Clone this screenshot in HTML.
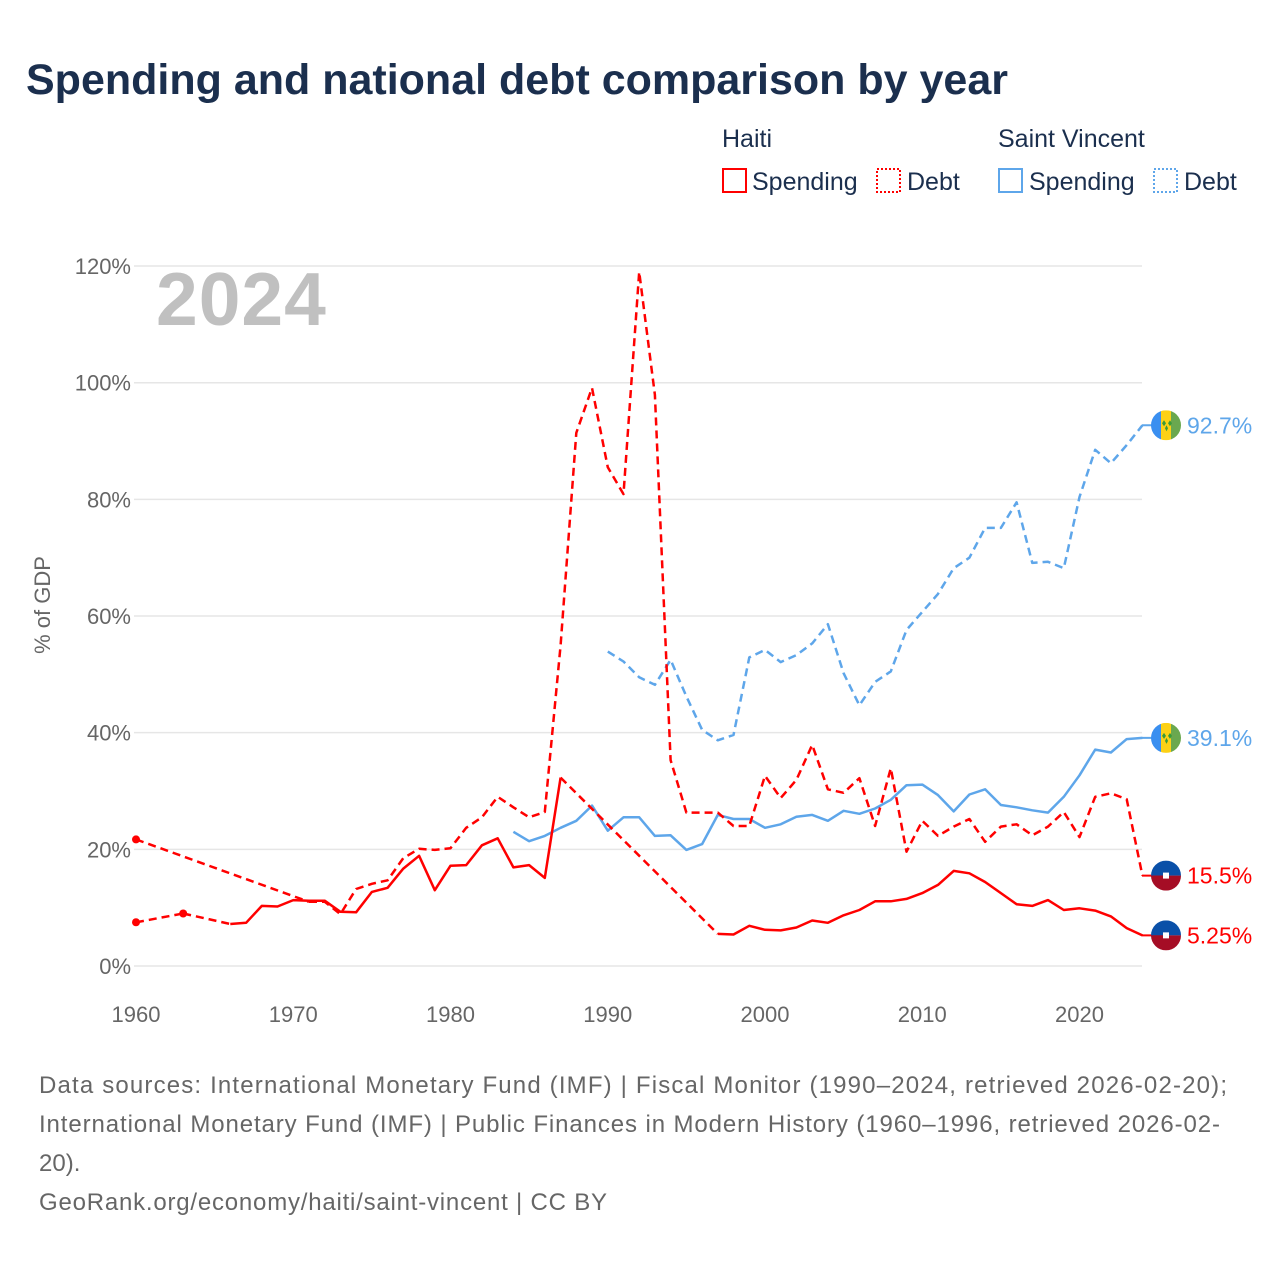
<!DOCTYPE html>
<html><head><meta charset="utf-8">
<style>
body{margin:0;background:#fff;font-family:"Liberation Sans",sans-serif;}
svg text{font-family:"Liberation Sans",sans-serif;}
</style></head>
<body>
<svg id="chart" width="1280" height="1280" viewBox="0 0 1280 1280" xmlns="http://www.w3.org/2000/svg">
<rect width="1280" height="1280" fill="#fff"/>
<text x="26" y="94" font-size="43" font-weight="bold" fill="#1b2f4e">Spending and national debt comparison by year</text>
<g font-size="25" fill="#1b2f4e">
<text x="722" y="147">Haiti</text>
<text x="998" y="147">Saint Vincent</text>
<g><rect x="723" y="169" width="23" height="23" fill="none" stroke="#f00" stroke-width="2"/><text x="752" y="190">Spending</text></g>
<g><rect x="877" y="169" width="23" height="23" fill="none" stroke="#f00" stroke-width="2" stroke-dasharray="2,2"/><text x="907" y="190">Debt</text></g>
<g><rect x="999" y="169" width="23" height="23" fill="none" stroke="#5ea6ea" stroke-width="2"/><text x="1029" y="190">Spending</text></g>
<g><rect x="1154" y="169" width="23" height="23" fill="none" stroke="#5ea6ea" stroke-width="2" stroke-dasharray="2,2"/><text x="1184" y="190">Debt</text></g>
</g>
<text x="156" y="325" font-size="75" font-weight="bold" fill="#c0c0c0" letter-spacing="1">2024</text>
<text transform="translate(50,605) rotate(-90)" text-anchor="middle" font-size="22" fill="#666">% of GDP</text>
<g id="grid"></g>
<g id="xaxis"></g>
<g id="series"></g>
<g id="endlabels"></g>
<g font-size="24" fill="#666">
<text x="39" y="1093" textLength="1188" lengthAdjust="spacing">Data sources: International Monetary Fund (IMF) | Fiscal Monitor (1990–2024, retrieved 2026-02-20);</text>
<text x="39" y="1132" textLength="1181" lengthAdjust="spacing">International Monetary Fund (IMF) | Public Finances in Modern History (1960–1996, retrieved 2026-02-</text>
<text x="39" y="1171">20).</text>
<text x="39" y="1210" textLength="568" lengthAdjust="spacing">GeoRank.org/economy/haiti/saint-vincent | CC BY</text>
</g>
</svg>
<script>
const startYear = 1960;
const yTicks = [0, 20, 40, 60, 80, 100, 120];
const xTicks = [1960, 1970, 1980, 1990, 2000, 2010, 2020];
const N = null;
// 1960..2024
const haitiSpending = [7.5,N,N,9.0,N,N,7.2,7.4,10.3,10.2,11.3,11.2,11.2,9.3,9.2,12.7,13.4,16.7,18.9,13.0,17.2,17.3,20.7,21.9,16.9,17.3,15.1,32.3,N,N,N,N,N,N,N,N,N,5.5,5.4,6.9,6.2,6.1,6.6,7.8,7.4,8.7,9.6,11.1,11.1,11.5,12.5,13.9,16.3,15.9,14.4,12.5,10.6,10.3,11.3,9.6,9.9,9.5,8.5,6.5,5.25];
const haitiDebt = [21.7,N,N,N,N,N,N,N,N,N,N,11.0,11.0,8.9,13.2,14.1,14.7,18.5,20.1,19.9,20.2,23.7,25.5,29.0,27.2,25.5,26.4,55,91.4,99.1,85.5,80.9,119,97.9,35.3,26.3,26.3,26.3,24.0,24.0,32.6,28.8,31.9,37.9,30.3,29.7,32.2,24.0,33.9,19.6,24.9,22.3,23.9,25.2,21.3,23.9,24.3,22.4,23.9,26.4,22.1,29.0,29.6,28.6,15.5];
const svSpending = [N,N,N,N,N,N,N,N,N,N,N,N,N,N,N,N,N,N,N,N,N,N,N,N,23.0,21.4,22.3,23.7,24.9,27.5,23.2,25.5,25.5,22.3,22.4,19.9,20.9,25.9,25.2,25.2,23.7,24.3,25.6,25.9,24.9,26.6,26.1,27.0,28.5,31.0,31.1,29.3,26.5,29.4,30.3,27.6,27.2,26.7,26.3,29.0,32.7,37.1,36.6,38.9,39.1];
const svDebt = [N,N,N,N,N,N,N,N,N,N,N,N,N,N,N,N,N,N,N,N,N,N,N,N,N,N,N,N,N,N,53.9,52.2,49.5,48.2,52.5,46.2,40.5,38.7,39.6,52.9,54.2,52.1,53.3,55.3,58.6,50.2,44.7,48.7,50.5,57.6,60.7,63.8,68.2,70.0,75.1,75.1,79.5,69.1,69.3,68.2,80.4,88.5,86.2,89.3,92.7];
const NS = "http://www.w3.org/2000/svg";
function xS(year){ return 136 + (year - 1960) * 15.725; }
function yS(v){ return 966 - v * 5.833; }
function mk(tag, attrs, parent){ const e = document.createElementNS(NS, tag); for (const k in attrs) e.setAttribute(k, attrs[k]); parent.appendChild(e); return e; }
const grid = document.getElementById('grid');
yTicks.forEach(t => {
  const l = mk('line', {x1:134, x2:1142, y1:yS(t), y2:yS(t), stroke:'#e6e6e6', 'stroke-width':1.5}, grid);
  
  
  const tx = mk('text', {x:131, y:yS(t)+8, 'text-anchor':'end', 'font-size':22, fill:'#666'}, grid);
  tx.textContent = t + '%';
  
  
});
const xa = document.getElementById('xaxis');
xTicks.forEach(t => {
  const tx = mk('text', {x:xS(t), y:1022, 'text-anchor':'middle', 'font-size':22, fill:'#666'}, xa);
  tx.textContent = t;
  
  
});
const ser = document.getElementById('series');
function drawSeries(vals, color, dashed, name){
  const g = mk('g', {}, ser);
  
  
  const pts = [];
  vals.forEach((v,i) => { if (v !== null) pts.push([i, v]); });
  let solid = '', gap = '';
  for (let k = 0; k < pts.length; k++) {
    const [i, v] = pts[k];
    const p = xS(startYear+i).toFixed(1) + ',' + yS(v).toFixed(1);
    if (k === 0) { solid += 'M' + p; continue; }
    const prev = pts[k-1];
    if (i - prev[0] === 1) solid += 'L' + p;
    else { gap += 'M' + xS(startYear+prev[0]).toFixed(1) + ',' + yS(prev[1]).toFixed(1) + 'L' + p; solid += 'M' + p; }
    const isoPrev = (k-1 === 0 || prev[0] - pts[k-2][0] > 1) && (i - prev[0] > 1);
    if (isoPrev) mk('circle', {cx:xS(startYear+prev[0]), cy:yS(prev[1]), r:4, fill:color}, g);
  }
  mk('path', {d:solid, fill:'none', stroke:color, 'stroke-width':2.5, 'stroke-dasharray': dashed ? '8,5' : 'none', 'stroke-linejoin':'round'}, g);
  if (gap) mk('path', {d:gap, fill:'none', stroke:color, 'stroke-width':2.5, 'stroke-dasharray':'8,5'}, g);
}
drawSeries(svDebt, '#5ea6ea', true, 'series-sv-debt');
drawSeries(svSpending, '#5ea6ea', false, 'series-sv-spending');
drawSeries(haitiDebt, '#f00', true, 'series-haiti-debt');
drawSeries(haitiSpending, '#f00', false, 'series-haiti-spending');
const el = document.getElementById('endlabels');
function endLabel(vals, color, flag, name, txt){
  const v = vals[vals.length-1];
  const y = yS(v), cx = 1166;
  const g = mk('g', {}, el);
  
  
  mk('line', {x1:1142, x2:cx, y1:y, y2:y, stroke:color, 'stroke-width':2}, g);
  const id = 'c' + Math.round(y);
  const cp = mk('clipPath', {id:id}, g);
  mk('circle', {cx:cx, cy:y, r:15}, cp);
  const fg = mk('g', {'clip-path':'url(#'+id+')'}, g);
  if (flag === 'sv') {
    mk('rect', {x:cx-15, y:y-15, width:10, height:30, fill:'#3a8ff0'}, fg);
    mk('rect', {x:cx-5, y:y-15, width:10, height:30, fill:'#fcd116'}, fg);
    mk('rect', {x:cx+5, y:y-15, width:10, height:30, fill:'#6aa84f'}, fg);
    mk('path', {d:`M${cx-4},${y-2}l2,-3l2,3l-2,3zM${cx+2},${y-2}l2,-3l2,3l-2,3zM${cx-1},${y+3}l1.5,-3l1.5,3l-1.5,3z`, fill:'#3a9a3a'}, fg);
  } else {
    mk('rect', {x:cx-15, y:y-15, width:30, height:15, fill:'#0a50a8'}, fg);
    mk('rect', {x:cx-15, y:y, width:30, height:15, fill:'#a50d25'}, fg);
    mk('rect', {x:cx-3, y:y-3, width:6, height:6, fill:'#fff'}, fg);
  }
  const t = mk('text', {x:1187, y:y+8, 'font-size':23, fill:color}, g);
  t.textContent = txt;
}
endLabel(svDebt, '#5ea6ea', 'sv', 'end-label-sv-debt', '92.7%');
endLabel(svSpending, '#5ea6ea', 'sv', 'end-label-sv-spending', '39.1%');
endLabel(haitiDebt, '#f00', 'ht', 'end-label-haiti-debt', '15.5%');
endLabel(haitiSpending, '#f00', 'ht', 'end-label-haiti-spending', '5.25%');
</script>
</body></html>
